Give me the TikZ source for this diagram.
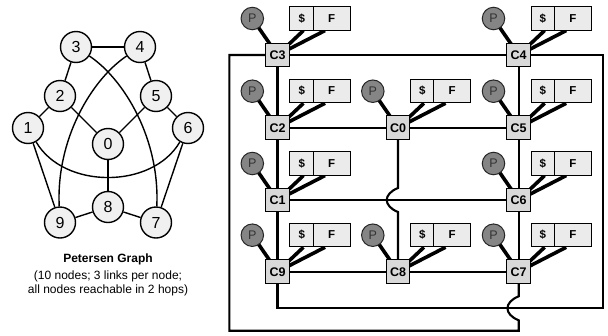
\documentclass[tikz,border=0pt]{standalone}
\usepackage{fontspec}
\setmainfont{Liberation Sans}
\usetikzlibrary{backgrounds,calc}
\definecolor{pgray}{HTML}{858585}
\definecolor{cgray}{HTML}{D9D9D9}
\definecolor{fgray}{HTML}{EBEBEB}
\definecolor{ngray}{HTML}{F0F0F0}
\newcommand\cunit[4]{%
  \node[cbox] (c#1) at (#2,#3) {#4};
  \node[pnode] (p#1) at ($(c#1)+(-25.2,-36.5)$) {P};
  \node[dbox] (d#1) at ($(c#1)+(24.2,-36.7)$) {\$};
  \node[fbox] (f#1) at ($(c#1)+(54.2,-36.7)$) {F};
  \begin{scope}[on background layer]
    \draw[tie] (p#1.center) -- (c#1.center);
    \draw[tie] ([xshift=1.7pt]d#1.south) -- (c#1.center);
    \draw[tie] ([xshift=-6.7pt]f#1.south) -- (c#1.center);
  \end{scope}}
\begin{document}
\begin{tikzpicture}[x=1pt,y=-1pt,
  pg/.style={circle, draw, line width=1.4pt, fill=ngray, minimum size=31pt, inner sep=0pt, font=\fontsize{16}{16}\selectfont},
  gedge/.style={line width=1.4pt},
  pnode/.style={circle, draw=black!85, line width=1pt, fill=pgray, minimum size=22.5pt, inner sep=0pt, font=\fontsize{12.5}{12.5}\selectfont, text=black!80},
  cbox/.style={rectangle, draw, line width=1pt, fill=cgray, minimum size=23.5pt, inner sep=0pt, font=\bfseries\fontsize{12.5}{12.5}\selectfont},
  dbox/.style={rectangle, draw, line width=1pt, fill=fgray, minimum width=23.5pt, minimum height=23.5pt, inner sep=0pt, font=\bfseries\fontsize{11.5}{11.5}\selectfont},
  fbox/.style={rectangle, draw, line width=1pt, fill=fgray, minimum width=36.7pt, minimum height=23.5pt, inner sep=0pt, font=\bfseries\fontsize{11.5}{11.5}\selectfont},
  tie/.style={line width=3.6pt},
  link/.style={line width=2.1pt}]
\useasboundingbox (0,0) rectangle (608,335);

% ---------- Petersen graph ----------
\node[pg] (g3) at (76,47) {3};
\node[pg] (g4) at (140,47) {4};
\node[pg] (g2) at (60,96) {2};
\node[pg] (g5) at (156,96) {5};
\node[pg] (g1) at (28,128) {1};
\node[pg] (g6) at (188,128) {6};
\node[pg] (g0) at (108,144) {0};
\node[pg] (g8) at (108,207) {8};
\node[pg] (g9) at (60,222.5) {9};
\node[pg] (g7) at (156,222.5) {7};
\draw[gedge] (g3) -- (g4);
\draw[gedge] (g3) -- (g2);
\draw[gedge] (g4) -- (g5);
\draw[gedge] (g2) -- (g1);
\draw[gedge] (g5) -- (g6);
\draw[gedge] (g2) -- (g0);
\draw[gedge] (g5) -- (g0);
\draw[gedge] (g0) -- (g8);
\draw[gedge] (g8) -- (g9);
\draw[gedge] (g8) -- (g7);
\draw[gedge] (g1) -- (g9);
\draw[gedge] (g6) -- (g7);
\draw[gedge] (g1) .. controls (63.8,189.4) and (152.2,189.4) .. (g6);
\draw[gedge] (g3) .. controls (125,80) and (160,140) .. (g7);
\draw[gedge] (g4) .. controls (91,80) and (56,140) .. (g9);
\node[font=\bfseries\fontsize{12}{14}\selectfont] (title) at (108,259.5) {Petersen Graph};
\node[font=\fontsize{12}{14.7}\selectfont, align=center] (sub) at (108,283.3) {(10 nodes; 3 links per node;\\all nodes reachable in 2 hops)};

% ---------- Network ----------
\cunit{3}{277.5}{55}{C3}
\cunit{4}{518.7}{55}{C4}
\cunit{2}{277.5}{127.7}{C2}
\cunit{0}{398}{127.7}{C0}
\cunit{5}{518.7}{127.7}{C5}
\cunit{1}{277.5}{200}{C1}
\cunit{6}{518.7}{200}{C6}
\cunit{9}{277.5}{271.7}{C9}
\cunit{8}{398}{271.7}{C8}
\cunit{7}{518.7}{271.7}{C7}

\draw[link] (c3) -- (c4);
\draw[link] (c3) -- (c2);
\draw[link] (c2) -- (c1);
\draw[link] (c1) -- (c9);
\draw[link] (c4) -- (c5);
\draw[link] (c5) -- (c6);
\draw[link] (c6) -- (c7);
\draw[link] (c2) -- (c0);
\draw[link] (c0) -- (c5);
\draw[link] (c1) -- (c6);
\draw[link] (c9) -- (c8);
\draw[link] (c8) -- (c7);

\coordinate (h1) at (398,188);
\coordinate (h2) at (398,212);
\draw[link] (c0) -- (h1) .. controls (383,194) and (383,206) .. (h2) -- (c8);

\coordinate (a1) at (229.3,55);
\coordinate (a2) at (229.3,330.7);
\coordinate (a3) at (518.7,330.7);
\coordinate (a4) at (518.7,320.3);
\coordinate (a5) at (518.7,296.3);
\draw[link] (c3) -- (a1) -- (a2) -- (a3) -- (a4) .. controls (503.7,314.3) and (503.7,302.3) .. (a5) -- (c7);

\coordinate (b1) at (603.3,55);
\coordinate (b2) at (603.3,308.3);
\coordinate (b3) at (277.5,308.3);
\draw[link] (c4) -- (b1) -- (b2) -- (b3) -- (c9);
\end{tikzpicture}
\end{document}
